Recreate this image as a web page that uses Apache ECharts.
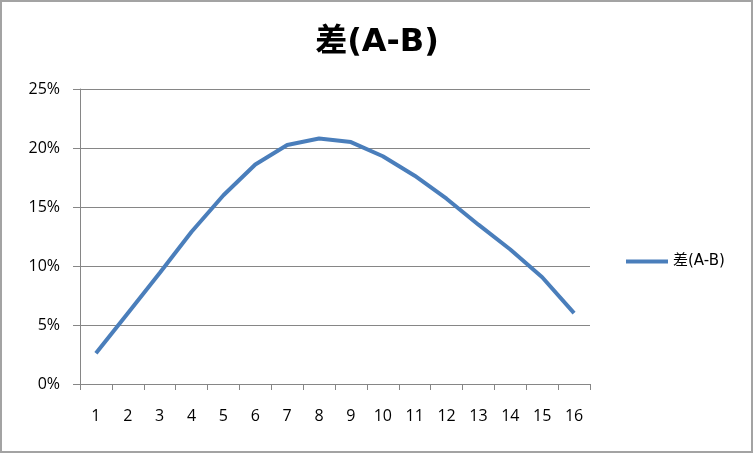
<!DOCTYPE html>
<html><head><meta charset="utf-8">
<script src="https://cdn.jsdelivr.net/npm/echarts@6/dist/echarts.min.js"></script>
<style>html,body{margin:0;padding:0;background:#fff}#c{width:754px;height:454px}</style>
</head><body><div id="c"></div>
<script>
const categories = ['1','2','3','4','5','6','7','8','9','10','11','12','13','14','15','16'];
const seriesName = '差(A-B)';
const diffValues = [2.6, 6.0, 9.4, 12.9, 16.0, 18.6, 20.25, 20.8, 20.5, 19.3, 17.65, 15.7, 13.5, 11.4, 9.05, 6.0];
const yTicks = { min: 0, max: 25, interval: 5 };

const chart = echarts.init(document.getElementById('c'), null, {renderer: 'canvas'});
chart.setOption({
  animation: false,
  backgroundColor: '#fff',
  graphic: [{type: 'rect', shape: {x: 1, y: 1, width: 751, height: 451}, style: {fill: 'none', stroke: '#a3a3a3', lineWidth: 2}, silent: true}],
  title: {text: '差(A-B)', left: 'center', top: 22, textStyle: {fontFamily: 'DejaVu Sans, Noto Sans CJK SC', fontWeight: 'bold', fontSize: 32, color: '#000'}},
  legend: {orient: 'vertical', left: 621, top: 249, itemWidth: 42, itemHeight: 4, itemGap: 4,
    icon: 'rect', textStyle: {fontFamily: 'DejaVu Sans, Noto Sans CJK SC', fontSize: 15, color: '#000'}, data: [seriesName]},
  grid: {left: 80, right: 164, top: 89, bottom: 70},
  xAxis: {type: 'category', data: categories, boundaryGap: true,
    axisLine: {lineStyle: {color: '#868686', width: 1}},
    axisTick: {show: true, length: 6, lineStyle: {color: '#868686'}},
    axisLabel: {fontFamily: 'Open Sans', fontSize: 16, color: '#000', margin: 24}},
  yAxis: {type: 'value', min: yTicks.min, max: yTicks.max, interval: yTicks.interval,
    axisLine: {show: true, lineStyle: {color: '#868686', width: 1}},
    axisTick: {show: true, length: 7, lineStyle: {color: '#868686'}},
    splitLine: {lineStyle: {color: '#868686', width: 1}},
    axisLabel: {fontFamily: 'Open Sans', fontSize: 16, color: '#000', margin: 20, formatter: v => v + '%'}},
  series: [{name: seriesName, type: 'line', data: diffValues, showSymbol: false, symbol: 'none',
    lineStyle: {color: '#4a7ebb', width: 4}, itemStyle: {color: '#4a7ebb'}}]
});
</script></body></html>
